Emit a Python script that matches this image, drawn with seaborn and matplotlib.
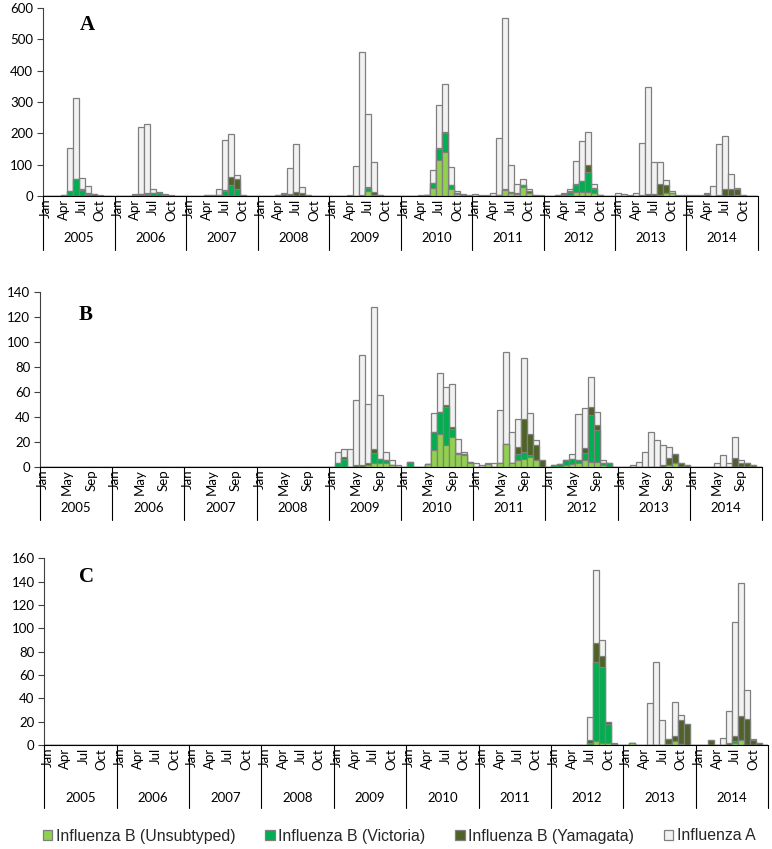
import numpy as np
import pandas as pd
import matplotlib
matplotlib.use("Agg")
import matplotlib.pyplot as plt
import seaborn as sns
from matplotlib.patches import Patch

# ---------------- data ----------------
years = [str(y) for y in range(2005, 2015)]
month_names = ["Jan", "Feb", "Mar", "Apr", "May", "Jun",
               "Jul", "Aug", "Sep", "Oct", "Nov", "Dec"]
series_names = ["Influenza B (Unsubtyped)", "Influenza B (Victoria)",
                "Influenza B (Yamagata)", "Influenza A"]

Z = [0] * 12

# Panel A (one row per year, Jan..Dec)
A_unsub = (Z + Z + Z + Z +
           [0, 0, 0, 0, 0, 0, 17, 2, 0, 0, 0, 0] +
           [0, 0, 0, 0, 2, 25, 115, 141, 23, 6, 2, 1] +
           [0, 0, 0, 0, 2, 19, 8, 6, 30, 11, 1, 0] +
           [0, 0, 0, 0, 4, 14, 13, 13, 11, 1, 0, 0] +
           [0, 0, 0, 0, 0, 0, 0, 2, 8, 8, 0, 0] +
           [0, 0, 0, 0, 0, 0, 1, 1, 3, 1, 0, 0])
A_vic = ([0, 0, 0, 1, 15, 54, 20, 5, 1, 0, 0, 0] +
         [0, 0, 0, 1, 6, 7, 8, 10, 1, 0, 0, 0] +
         [0, 0, 0, 0, 1, 2, 15, 35, 22, 1, 0, 0] +
         [0, 0, 0, 1, 1, 1, 0, 1, 0, 0, 0, 0] +
         [0, 0, 0, 0, 0, 1, 10, 0, 0, 0, 0, 0] +
         [0, 0, 0, 0, 0, 17, 34, 59, 12, 2, 0, 0] +
         [0, 0, 0, 0, 0, 0, 2, 0, 5, 0, 0, 0] +
         [0, 0, 1, 4, 10, 22, 34, 65, 11, 1, 0, 0] +
         Z + Z)
A_yam = ([0, 0, 0, 2, 0, 0, 3, 6, 4, 1, 0, 0] +
         [0, 0, 0, 1, 1, 1, 0, 0, 3, 1, 0, 0] +
         [0, 0, 0, 2, 2, 1, 4, 27, 33, 1, 0, 0] +
         [0, 0, 0, 1, 6, 4, 12, 8, 3, 1, 0, 0] +
         [0, 0, 0, 1, 1, 1, 3, 10, 2, 0, 0, 0] +
         [0, 0, 0, 0, 0, 1, 3, 3, 1, 1, 1, 0] +
         [0, 0, 0, 0, 0, 2, 2, 4, 0, 6, 1, 0] +
         [0, 0, 1, 3, 3, 2, 2, 20, 5, 1, 0, 0] +
         [0, 0, 0, 1, 2, 5, 5, 35, 27, 2, 1, 0] +
         [1, 1, 1, 5, 1, 2, 20, 21, 18, 2, 0, 0])
A_fluA = ([0, 0, 0, 0, 139, 260, 35, 21, 1, 1, 0, 0] +
          [0, 0, 1, 3, 213, 221, 13, 2, 1, 1, 0, 0] +
          [1, 0, 1, 1, 1, 18, 160, 135, 11, 1, 0, 0] +
          [1, 0, 1, 1, 1, 84, 153, 19, 1, 0, 0, 0] +
          [0, 0, 0, 1, 96, 457, 233, 97, 1, 1, 0, 0] +
          [1, 0, 1, 2, 1, 40, 137, 153, 55, 6, 2, 3] +
          [5, 4, 2, 11, 182, 548, 88, 28, 19, 4, 2, 2] +
          [1, 1, 2, 3, 4, 74, 127, 106, 12, 1, 1, 1] +
          [11, 7, 2, 10, 168, 342, 105, 73, 15, 7, 2, 2] +
          [2, 1, 2, 3, 30, 163, 171, 48, 3, 1, 1, 0])

# Panel B
B_unsub = (Z + Z + Z + Z +
           [0, 0, 0, 0, 0, 0, 1, 3, 3, 3, 1, 0] +
           [0, 0, 0, 0, 2, 13, 26, 17, 24, 10, 9, 3] +
           [0, 0, 2, 0, 3, 18, 3, 5, 6, 8, 5, 0] +
           [0, 0, 0, 1, 2, 3, 5, 4, 4, 1, 0, 0] +
           [0, 0, 0, 0, 0, 0, 0, 0, 1, 3, 0, 0] +
           Z)
B_vic = (Z + Z + Z + Z +
         [0, 3, 6, 0, 0, 0, 0, 8, 3, 2, 0, 0] +
         [0, 4, 0, 0, 0, 15, 18, 31, 6, 1, 1, 0] +
         [0, 0, 0, 0, 0, 0, 0, 5, 6, 1, 0, 0] +
         [0, 1, 2, 4, 4, 2, 6, 37, 25, 2, 3, 0] +
         Z + Z)
B_yam = (Z + Z + Z + Z +
         [0, 0, 2, 0, 1, 1, 2, 3, 0, 0, 0, 0] +
         [0, 0, 0, 0, 0, 0, 0, 1, 2, 0, 0, 1] +
         [0, 0, 0, 0, 0, 0, 0, 6, 26, 17, 12, 5] +
         [0, 0, 0, 0, 0, 0, 4, 7, 4, 0, 0, 0] +
         [0, 0, 0, 0, 0, 0, 0, 1, 6, 7, 3, 1] +
         [0, 0, 0, 0, 0, 0, 0, 7, 3, 3, 1, 0])
B_fluA = (Z + Z + Z + Z +
          [0, 9, 6, 14, 52, 88, 47, 114, 51, 7, 4, 1] +
          [0, 0, 0, 0, 0, 15, 31, 15, 34, 11, 2, 0] +
          [3, 1, 1, 3, 42, 74, 25, 22, 49, 17, 4, 0] +
          [0, 0, 0, 0, 4, 37, 32, 24, 11, 2, 0, 0] +
          [0, 0, 1, 4, 12, 28, 21, 16, 9, 0, 0, 0] +
          [0, 0, 0, 0, 3, 9, 3, 17, 2, 0, 0, 0])

# Panel C
C_unsub = (Z * 7 +
           [0, 0, 0, 0, 0, 0, 0, 3, 2, 2, 0, 0] +
           [0, 2, 0, 0, 0, 0, 0, 1, 3, 1, 0, 0] +
           [0, 0, 0, 0, 0, 0, 2, 4, 0, 0, 0, 0])
C_vic = (Z * 7 +
         [0, 0, 0, 0, 0, 0, 2, 68, 65, 16, 0, 0] +
         Z +
         [0, 0, 0, 0, 0, 0, 1, 0, 0, 0, 0, 0])
C_yam = (Z * 7 +
         [0, 0, 0, 0, 0, 0, 2, 16, 9, 2, 1, 0] +
         [0, 0, 0, 0, 0, 0, 0, 4, 5, 20, 18, 0] +
         [0, 0, 4, 0, 0, 2, 5, 21, 22, 4, 2, 0])
C_fluA = (Z * 7 +
          [0, 0, 0, 0, 0, 0, 20, 63, 14, 0, 1, 0] +
          [0, 0, 0, 0, 36, 71, 21, 0, 29, 5, 0, 0] +
          [0, 0, 0, 0, 6, 27, 97, 114, 25, 1, 0, 0])

# ---------------- style ----------------
COL_U = "#92D050"
COL_V = "#00B050"
COL_Y = "#4F6228"
COL_A = "#F2F2F2"
EDGE = "#7F7F7F"

sns.set_style("ticks")
plt.rcParams["font.family"] = ["Lato", "DejaVu Sans"]

W, H = 772, 849
fig = plt.figure(figsize=(W / 100, H / 100), dpi=100)


def add_ax(left, right, top, bottom):
    return fig.add_axes([left / W, 1 - bottom / H, (right - left) / W, (bottom - top) / H])


def draw_panel(ax, unsub, vic, yam, flua, ymax, ystep, tick_months,
               letter, letter_xy, div_px, year_y_px, zero_px):
    idx = np.arange(120)
    u = np.array(unsub, dtype=float)
    v = np.array(vic, dtype=float)
    y = np.array(yam, dtype=float)
    a = np.array(flua, dtype=float)
    layers = [(u + v + y + a, COL_A), (u + v + y, COL_Y), (u + v, COL_V), (u, COL_U)]
    for h, c in layers:
        df = pd.DataFrame({"m": idx, "val": h})
        sns.barplot(data=df, x="m", y="val", color=c, saturation=1, width=1.0,
                    edgecolor=EDGE, linewidth=0.9, errorbar=None, ax=ax)
    ax.set_xlabel("")
    ax.set_ylabel("")
    ax.set_xlim(-0.5, 119.5)
    ax.set_ylim(0, ymax)
    ax.set_yticks(np.arange(0, ymax + 1, ystep))
    ax.tick_params(axis="y", labelsize=9.5, length=4, width=0.8, color="#404040",
                   pad=3, labelcolor="black")
    pos = [12 * k + m for k in range(10) for m in tick_months]
    labs = [month_names[m] for k in range(10) for m in tick_months]
    ax.set_xticks(pos)
    ax.set_xticklabels(labs, rotation=90, fontsize=9.5)
    ax.tick_params(axis="x", length=0, pad=2, labelcolor="black")
    for s in ["top", "right"]:
        ax.spines[s].set_visible(False)
    ax.spines["left"].set_color("#404040")
    ax.spines["left"].set_linewidth(0.8)
    ax.spines["bottom"].set_color("black")
    ax.spines["bottom"].set_linewidth(0.8)
    # year dividers below axis
    axh = ax.get_position().height * H
    frac = -div_px / axh
    for k in range(11):
        ax.plot([12 * k - 0.5, 12 * k - 0.5], [0, frac], color="black", lw=0.8,
                transform=ax.get_xaxis_transform(), clip_on=False)
    yf = -(year_y_px - zero_px) / axh
    for k, yr in enumerate(years):
        ax.text(12 * k + 5.5, yf, yr, transform=ax.get_xaxis_transform(),
                ha="center", va="center", fontsize=9.5, color="black")
    fig.text(letter_xy[0] / W, 1 - letter_xy[1] / H, letter,
             fontsize=15, fontweight="bold", family=["Liberation Serif", "DejaVu Serif"],
             ha="center", va="center", color="black")


axA = add_ax(43, 758, 8, 196)
draw_panel(axA, A_unsub, A_vic, A_yam, A_fluA, 600, 100, [0, 3, 6, 9],
           "A", (87, 25), 54, 238, 196)

axB = add_ax(40, 762, 291.7, 466.7)
draw_panel(axB, B_unsub, B_vic, B_yam, B_fluA, 140, 20, [0, 4, 8],
           "B", (86, 315), 53, 508, 466.7)

axC = add_ax(44.3, 768, 558.3, 745)
draw_panel(axC, C_unsub, C_vic, C_yam, C_fluA, 160, 20, [0, 3, 6, 9],
           "C", (86, 577), 63, 798, 745)

handles = [Patch(facecolor=c, edgecolor=EDGE, linewidth=0.9)
           for c in [COL_U, COL_V, COL_Y, COL_A]]
fig.legend(handles, series_names, loc="center", bbox_to_anchor=(0.517, 1 - 836 / H),
           ncol=4, frameon=False, handlelength=0.6, handleheight=0.6,
           handletextpad=0.2, columnspacing=1.9,
           prop={"family": ["Liberation Sans", "DejaVu Sans"], "size": 11.4})

fig.savefig("out.png", dpi=100)
